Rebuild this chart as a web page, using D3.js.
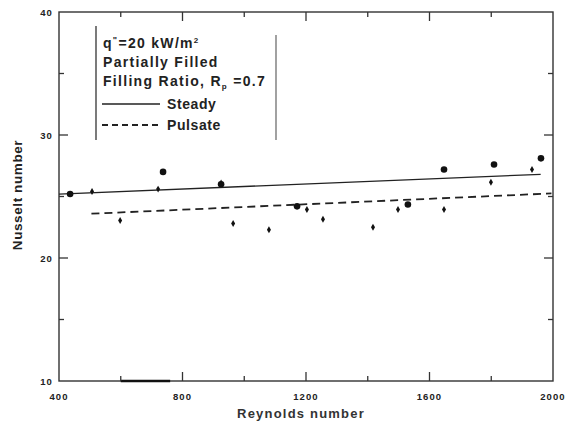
<!DOCTYPE html>
<html>
<head>
<meta charset="utf-8">
<script src="https://cdn.jsdelivr.net/npm/d3@7"></script>
<style>
  body { margin: 0; background: #fff; }
  svg { display: block; font-family: 'Liberation Sans', Arial, sans-serif; }
  .tick-label { font-size: 9.5px; font-weight: bold; fill: #222; letter-spacing: 1.1px; }
  .axis-title { font-size: 13px; font-weight: bold; fill: #333; letter-spacing: 1.2px; }
  .y-title { font-size: 13.5px; font-weight: bold; fill: #222; letter-spacing: 0.6px; }
  .legend-text { font-size: 14px; font-weight: bold; fill: #222; letter-spacing: 1.3px; }
</style>
</head>
<body>
<div class="chart"></div>
<script>
var steadyRe = [436, 737, 925, 1171, 1530, 1647, 1809, 1961];
var steadyNu = [25.2, 27.0, 26.0, 24.2, 24.35, 27.2, 27.6, 28.1];

var pulsateRe = [507, 598, 721, 925, 964, 1080, 1203, 1255, 1417, 1498, 1647, 1799, 1932];
var pulsateNu = [25.4, 23.05, 25.6, 26.1, 22.8, 22.3, 23.95, 23.15, 22.5, 23.95, 23.95, 26.15, 27.2];

// fitted trend lines (end points)
var steadyFitRe = [400, 1960];
var steadyFitNu = [25.2, 26.8];
var pulsateFitRe = [505, 1995];
var pulsateFitNu = [23.6, 25.25];

var xMajor = [400, 800, 1200, 1600, 2000];
var xMinor = [600, 1000, 1400, 1800];
var yMajor = [10, 20, 30, 40];
var yMinor = [15, 25, 35];

var legendLines = ['Steady', 'Pulsate'];

function init() {
  var width = 568,
      height = 423,
      left = 59,
      right = 553,
      top = 12,
      bottom = 381;

  var svg = d3.select('.chart')
    .append('svg')
      .attr('width', width)
      .attr('height', height);

  var x = d3.scaleLinear().domain([400, 2000]).range([left, right]);
  var y = d3.scaleLinear().domain([10, 40]).range([bottom, top]);

  // frame
  svg.append('rect')
      .attr('x', left)
      .attr('y', top)
      .attr('width', right - left)
      .attr('height', bottom - top)
      .attr('fill', 'none')
      .attr('stroke', '#333')
      .attr('stroke-width', 1.4);

  // scan artefact: thicker bit of the bottom axis
  svg.append('line')
      .attr('x1', x(600)).attr('x2', x(760))
      .attr('y1', bottom).attr('y2', bottom)
      .attr('stroke', '#111').attr('stroke-width', 2.4);

  var ticks = svg.append('g').attr('stroke', '#333').attr('stroke-width', 1.3);

  function xTicks(vals, len) {
    vals.forEach(function(v) {
      ticks.append('line').attr('x1', x(v)).attr('x2', x(v))
          .attr('y1', bottom).attr('y2', bottom - len);
      ticks.append('line').attr('x1', x(v)).attr('x2', x(v))
          .attr('y1', top).attr('y2', top + len);
    });
  }
  function yTicks(vals, len) {
    vals.forEach(function(v) {
      ticks.append('line').attr('y1', y(v)).attr('y2', y(v))
          .attr('x1', left).attr('x2', left + len);
      ticks.append('line').attr('y1', y(v)).attr('y2', y(v))
          .attr('x1', right).attr('x2', right - len);
    });
  }
  xTicks(xMajor.slice(1, -1), 9);
  xTicks(xMinor, 5);
  yTicks(yMajor.slice(1, -1), 9);
  yTicks(yMinor, 5);

  // tick labels
  svg.selectAll('text.xl')
    .data(xMajor)
    .enter().append('text')
      .attr('class', 'tick-label')
      .attr('x', function(d) { return x(d); })
      .attr('y', bottom + 19)
      .attr('text-anchor', 'middle')
      .text(function(d) { return d; });

  svg.selectAll('text.yl')
    .data(yMajor)
    .enter().append('text')
      .attr('class', 'tick-label')
      .attr('x', left - 6)
      .attr('y', function(d) { return y(d) + 3.5; })
      .attr('text-anchor', 'end')
      .text(function(d) { return d; });

  svg.append('text')
      .attr('class', 'axis-title')
      .attr('x', 301)
      .attr('y', 418)
      .attr('text-anchor', 'middle')
      .text('Reynolds number');

  svg.append('text')
      .attr('class', 'y-title')
      .attr('transform', 'translate(22, 195) rotate(-90)')
      .attr('text-anchor', 'middle')
      .text('Nusselt number');

  // fit lines
  var line = d3.line()
      .x(function(d) { return x(d[0]); })
      .y(function(d) { return y(d[1]); });

  svg.append('path')
      .datum(d3.zip(steadyFitRe, steadyFitNu))
      .attr('d', line)
      .attr('fill', 'none')
      .attr('stroke', '#222')
      .attr('stroke-width', 1.3);

  svg.append('path')
      .datum(d3.zip(pulsateFitRe, pulsateFitNu))
      .attr('d', line)
      .attr('fill', 'none')
      .attr('stroke', '#222')
      .attr('stroke-width', 1.8)
      .attr('stroke-dasharray', '8,5');

  // points
  svg.selectAll('circle.steady')
    .data(d3.zip(steadyRe, steadyNu))
    .enter().append('circle')
      .attr('class', 'steady')
      .attr('cx', function(d) { return x(d[0]); })
      .attr('cy', function(d) { return y(d[1]); })
      .attr('r', 3.3)
      .attr('fill', '#111');

  var cross = d3.symbol().type(d3.symbolDiamond).size(14);
  svg.selectAll('path.pulsate')
    .data(d3.zip(pulsateRe, pulsateNu))
    .enter().append('path')
      .attr('class', 'pulsate')
      .attr('transform', function(d) { return 'translate(' + x(d[0]) + ',' + y(d[1]) + ')'; })
      .attr('d', cross)
      .attr('fill', '#111');

  // legend block
  var lg = svg.append('g');
  lg.append('line').attr('x1', 96).attr('x2', 96).attr('y1', 26).attr('y2', 140)
      .attr('stroke', '#333').attr('stroke-width', 1.3);
  lg.append('line').attr('x1', 276).attr('x2', 276).attr('y1', 35).attr('y2', 140)
      .attr('stroke', '#555').attr('stroke-width', 1.1);

  var t1 = lg.append('text').attr('class', 'legend-text').attr('x', 103).attr('y', 48);
  t1.append('tspan').text('q');
  t1.append('tspan').attr('dy', -5).attr('font-size', 9).text('"');
  t1.append('tspan').attr('dy', 5).text('=20  kW/m');
  t1.append('tspan').attr('dy', -5).attr('font-size', 8).text('2');

  lg.append('text').attr('class', 'legend-text').attr('x', 103).attr('y', 67)
      .text('Partially Filled');

  var t3 = lg.append('text').attr('class', 'legend-text').attr('x', 103).attr('y', 86);
  t3.append('tspan').text('Filling Ratio, R');
  t3.append('tspan').attr('dy', 3).attr('font-size', 8).text('p');
  t3.append('tspan').attr('dy', -3).text(' =0.7');

  legendLines.forEach(function(name, i) {
    var ly = 104 + i * 21;
    lg.append('line')
        .attr('x1', 102).attr('x2', 160)
        .attr('y1', ly).attr('y2', ly)
        .attr('stroke', '#222')
        .attr('stroke-width', i ? 1.8 : 1.4)
        .attr('stroke-dasharray', i ? '6,4' : null);
    lg.append('text')
        .attr('class', 'legend-text')
        .attr('x', 167)
        .attr('y', ly + 5)
        .style('letter-spacing', '0.6px')
        .text(name);
  });
}

d3.select(window).on('load', init);
</script>
</body>
</html>
